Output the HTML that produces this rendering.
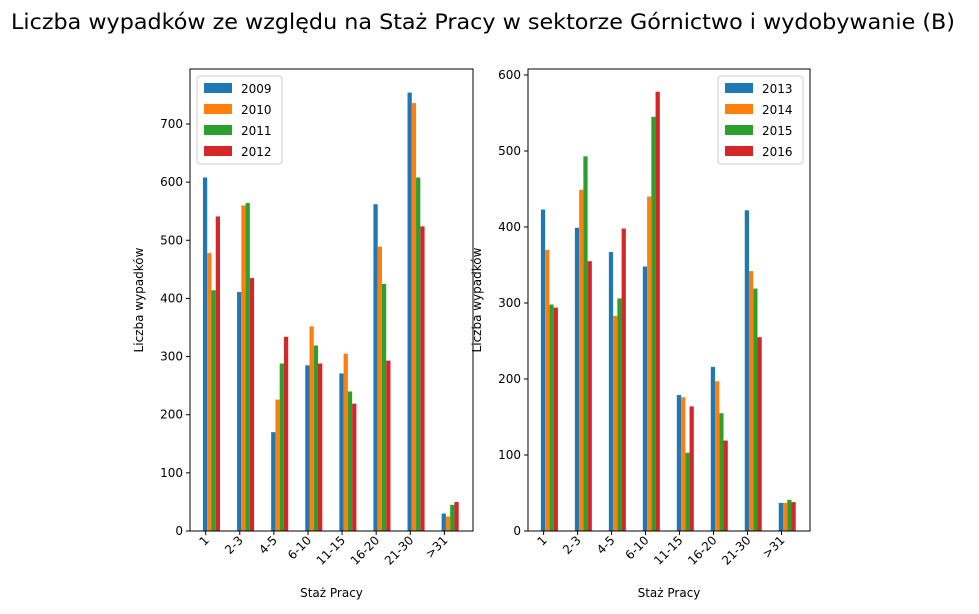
<!DOCTYPE html>
<html><head><meta charset="utf-8">
<style>
body{margin:0;background:#fff;font-family:"Liberation Sans","DejaVu Sans",sans-serif;}
svg text{font-family:"DejaVu Sans","Liberation Sans",sans-serif;}
</style></head>
<body>
<svg id="c" width="979" height="609" viewBox="0 0 979 609" xmlns="http://www.w3.org/2000/svg">
<text x="483" y="29" font-size="21" text-anchor="middle" textLength="944" lengthAdjust="spacingAndGlyphs">Liczba wypadków ze względu na Staż Pracy w sektorze Górnictwo i wydobywanie (B)</text>
</svg>
<script>
const categories=["1","2-3","4-5","6-10","11-15","16-20","21-30",">31"];
const colors=["#1f77b4","#ff7f0e","#2ca02c","#d62728"];
const leftYears=["2009","2010","2011","2012"];
const s2009=[608,411,170,285,271,562,754,30];
const s2010=[478,560,226,352,305,489,736,25];
const s2011=[414,564,288,319,240,425,608,45];
const s2012=[541,435,334,288,219,293,524,50];
const rightYears=["2013","2014","2015","2016"];
const s2013=[423,399,367,348,179,216,422,37];
const s2014=[370,449,283,440,176,197,342,37];
const s2015=[298,493,306,545,103,155,319,41];
const s2016=[294,355,398,578,164,119,255,38];
const leftTicks=[0,100,200,300,400,500,600,700];
const rightTicks=[0,100,200,300,400,500,600];
const svg=document.getElementById('c');
const NS="http://www.w3.org/2000/svg";
function mk(tag,attrs,parent){const e=document.createElementNS(NS,tag);for(const k in attrs)e.setAttribute(k,attrs[k]);(parent||svg).appendChild(e);return e;}
function panel(x0,x1,y0,y1,ymax,ticks,years,series,legX,name){
  const g=mk('g',{});
  
  
  const u=(x1-x0)/8.3;
  const xs=v=>x0+(v+0.46)*u;
  const ys=v=>y1-v*(y1-y0)/ymax;
  const bw=0.125*u;
  series.forEach((s,si)=>{s.forEach((v,ci)=>{
    const lx=xs(ci)+(-0.08+0.125*si)*u;
    const r=mk('rect',{x:lx,y:ys(v),width:bw,height:ys(0)-ys(v),fill:colors[si]},g);
    
    
  });});
  mk('rect',{x:x0,y:y0,width:x1-x0,height:y1-y0,fill:'none',stroke:'#000','stroke-width':1},g);
  ticks.forEach(t=>{const y=ys(t);
    mk('line',{x1:x0-4,x2:x0,y1:y,y2:y,stroke:'#000'},g);
    const tx=mk('text',{x:x0-7,y:y+4,'font-size':12,'text-anchor':'end'},g);tx.textContent=t;
    
    
  });
  categories.forEach((c,ci)=>{const x=xs(ci);
    mk('line',{x1:x,x2:x,y1:y1,y2:y1+4,stroke:'#000'},g);
    const tx=mk('text',{x:x+4,y:y1+10,'font-size':12,'text-anchor':'end',transform:`rotate(-45 ${x+4} ${y1+10})`},g);tx.textContent=c;
    
    
  });
  const xt=mk('text',{x:(x0+x1)/2,y:597,'font-size':12,'text-anchor':'middle'},g);xt.textContent='Staż Pracy';
  
  
  const yx=x0-47,yy=(y0+y1)/2;
  const yt=mk('text',{x:yx,y:yy,'font-size':12,'text-anchor':'middle',transform:`rotate(-90 ${yx} ${yy})`},g);yt.textContent='Liczba wypadków';
  
  
  const lg=mk('g',{},g);
  
  
  mk('rect',{x:legX,y:76,width:85,height:88,rx:3,fill:'#fff',stroke:'#ccc'},lg);
  years.forEach((yr,i)=>{
    const e=mk('g',{},lg);
    
    
    mk('rect',{x:legX+7,y:83+i*21,width:28,height:10,fill:colors[i]},e);
    const t=mk('text',{x:legX+44,y:93+i*21,'font-size':12},e);t.textContent=yr;
  });
}
panel(190,473,69,531,794.6,leftTicks,leftYears,[s2009,s2010,s2011,s2012],197,'left-panel');
panel(528,810,69,531,607.9,rightTicks,rightYears,[s2013,s2014,s2015,s2016],718,'right-panel');
</script>
</body></html>
